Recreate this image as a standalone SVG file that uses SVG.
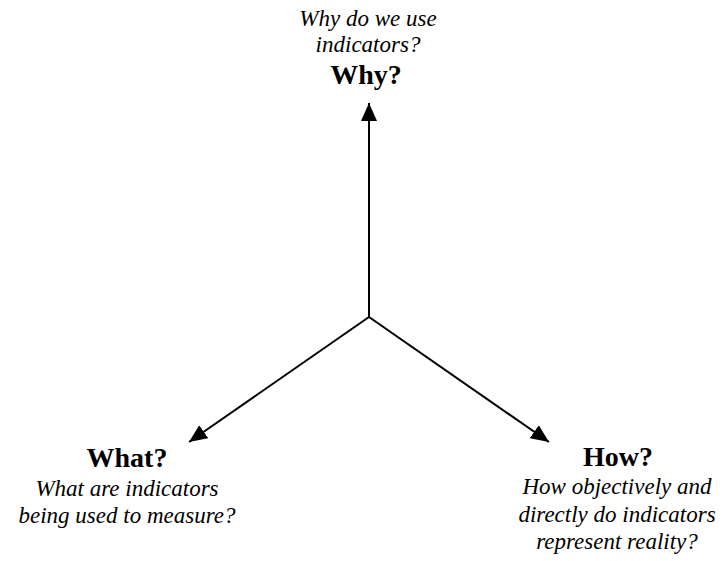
<svg xmlns="http://www.w3.org/2000/svg" width="725" height="561" viewBox="0 0 725 561">
<style>
.bold{font-family:"Liberation Serif","Times New Roman",serif;font-weight:bold;font-size:28px;fill:#000;text-anchor:middle}
.it{font-family:"Liberation Serif","Times New Roman",serif;font-style:italic;font-size:23px;fill:#000;text-anchor:middle}
.conn{stroke:#000;stroke-width:2;fill:none;marker-end:url(#ah)}
</style>
<defs>
<marker id="ah" markerUnits="userSpaceOnUse" markerWidth="20" markerHeight="16" refX="18" refY="8" orient="auto">
<path d="M0,0 L18,8 L0,16 Z" fill="#000"/>
</marker>
</defs>
<rect width="725" height="561" fill="#fff"/>
<g id="connectors">
<path class="conn" d="M369,317 L369,103"/>
<path class="conn" d="M369,317 L189,442"/>
<path class="conn" d="M369,317 L549,442"/>
</g>
<g id="why">
<text class="it" x="368" y="26">Why do we use</text>
<text class="it" x="368" y="52">indicators?</text>
<text class="bold" x="366" y="84">Why?</text>
</g>
<g id="what">
<text class="bold" x="127" y="467">What?</text>
<text class="it" x="127" y="496">What are indicators</text>
<text class="it" x="127" y="523">being used to measure?</text>
</g>
<g id="how">
<text class="bold" x="618" y="466">How?</text>
<text class="it" x="617" y="494">How objectively and</text>
<text class="it" x="617" y="522">directly do indicators</text>
<text class="it" x="617" y="549">represent reality?</text>
</g>
</svg>
